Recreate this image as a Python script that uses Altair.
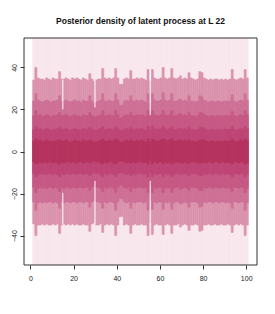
import altair as alt
import pandas as pd

# positions 1..100 (each bar spans [i, i+1])
positions = list(range(1, 101))

hi1 = [34,40,35,34.5,34.5,34,35,34.5,34,35, 34.5,34.5,38,34.5,34.5,35,34.5,34,35,34.5,
       35,34.5,34,35,34.5,34,37,34.5,33.5,34, 34.5,34.5,39.5,35,34.5,35,34.5,35,39.5,35,
       32,32,34.5,35,34.5,38.5,34.5,34.5,35,34.5, 35,34.5,34,39,33.5,39,35,34.5,34.5,35,
       40,35,34.5,35,39.5,35,34.5,35,36,34.5, 35,34.5,37.5,35,34.5,34,34.5,38,37.5,35,
       34.5,34,34.5,34,34.5,34.5,34,34.5,34,34.5, 34,34.5,39,34.5,34,34.5,35,34.5,39,35]
lo1 = [-34.5,-40,-35,-35,-34.5,-35,-34.5,-35,-35,-34.5, -35,-34.5,-39,-35,-34.5,-35,-34.5,-35,-34.5,-35,
       -34.5,-35,-35,-34.5,-35,-35,-38,-34.5,-34,-35, -35,-34.5,-38.5,-35,-34.5,-35,-34.5,-35,-40,-35,
       -31,-31,-35,-34.5,-35,-39,-35,-34.5,-35,-35, -34.5,-35,-35,-40,-34,-39.5,-35,-34.5,-35,-35,
       -39.5,-35,-34.5,-35,-39,-35,-35,-34.5,-36,-35, -34.5,-35,-37.5,-35,-35,-34.5,-35,-38,-37.5,-35,
       -35,-34.5,-35,-35,-34.5,-35,-35,-34.5,-35,-35, -34.5,-35,-38.5,-35,-34.5,-35,-34.5,-35,-40,-35]
hi2 = [24,27.5,24.5,24,23.5,24,24.5,24,23.5,24, 24,24.5,26.5,24,24,24.5,24,23.5,24,24.5,
       24,24,23.5,24.5,24,24,26.5,24,23,23.5, 24,24.5,27.5,24,24,24.5,24,24,27.5,24.5,
       22,22,24,24.5,24,26.5,24,24,24.5,24, 24.5,24,23.5,27.5,23,27.5,24.5,24,24,24.5,
       28,24.5,24,24.5,27.5,24,24,24.5,25,24, 24.5,24,26.5,24,24,23.5,24,26.5,26,24.5,
       24,23.5,24,24,23.5,24,24,23.5,24,24, 24,24,27,24,23.5,24,24.5,24,27.5,24.5]
lo2 = [-24,-28,-24.5,-24,-24.5,-24,-24.5,-24,-24,-24.5, -24,-24.5,-27,-24,-24.5,-24,-24,-24.5,-24,-24,
       -24.5,-24,-24,-24.5,-24,-24,-26.5,-24,-23.5,-24, -24,-24.5,-27,-24,-24.5,-24,-24,-24.5,-28,-24,
       -22.5,-22.5,-24,-24.5,-24,-27,-24,-24.5,-24,-24, -24,-24.5,-24,-28,-23.5,-27.5,-24,-24.5,-24,-24,
       -27.5,-24,-24.5,-24,-27.5,-24.5,-24,-24,-25,-24.5, -24,-24.5,-26.5,-24,-24,-24,-24.5,-26.5,-26,-24,
       -24.5,-24,-24,-24.5,-24,-24,-24.5,-24,-24,-24.5, -24,-24.5,-27,-24,-24,-24.5,-24,-24,-28,-24.5]
hi3 = [17,19.5,17,17.5,16.5,17,17.5,17,16.5,17, 17,17.5,18.5,17,17,17.5,17,16.5,17,17.5,
       17,17,16.5,17.5,17,17,18.5,17,16.5,16.5, 17,17.5,19.5,17,17,17.5,17,17,19.5,17.5,
       16,16,17,17.5,17,18.5,17,17,17.5,17, 17.5,17,16.5,19.5,16.5,19.5,17.5,17,17,17.5,
       19.5,17.5,17,17.5,19.5,17,17,17.5,18,17, 17.5,17,18.5,17,17,16.5,17,18.5,18.5,17.5,
       17,16.5,17,17,16.5,17,17,16.5,17,17, 17,17,19,17,16.5,17,17.5,17,19.5,17.5]
lo3 = [-17,-19.5,-17.5,-17,-17.5,-17,-17.5,-17,-17,-17.5, -17,-17.5,-19,-17,-17.5,-17,-17,-17.5,-17,-17,
       -17.5,-17,-17,-17.5,-17,-17,-18.5,-17,-16.5,-17, -17,-17.5,-19,-17,-17.5,-17,-17,-17.5,-19.5,-17,
       -16,-16,-17,-17.5,-17,-19,-17,-17.5,-17,-17, -17,-17.5,-17,-19.5,-16.5,-19.5,-17,-17.5,-17,-17,
       -19.5,-17,-17.5,-17,-19.5,-17.5,-17,-17,-18,-17.5, -17,-17.5,-18.5,-17,-17,-17,-17.5,-18.5,-18.5,-17,
       -17.5,-17,-17,-17.5,-17,-17,-17.5,-17,-17,-17.5, -17,-17.5,-19,-17,-17,-17.5,-17,-17,-19.5,-17.5]
hi4 = [10.5,12,10.5,11,10,10.5,11,10.5,10,10.5, 10.5,11,11.5,10.5,10.5,11,10.5,10,10.5,11,
       10.5,10.5,10,11,10.5,10.5,11.5,10.5,10,10, 10.5,11,12,10.5,10.5,11,10.5,10.5,12,11,
       10,10,10.5,11,10.5,11.5,10.5,10.5,11,10.5, 11,10.5,10,12,10,12,11,10.5,10.5,11,
       12,11,10.5,11,12,10.5,10.5,11,11,10.5, 11,10.5,11.5,10.5,10.5,10,10.5,11.5,11.5,11,
       10.5,10,10.5,10.5,10,10.5,10.5,10,10.5,10.5, 10.5,10.5,12,10.5,10,10.5,11,10.5,12,11]
lo4 = [-10.5,-12,-11,-10.5,-11,-10.5,-11,-10.5,-10.5,-11, -10.5,-11,-12,-10.5,-11,-10.5,-10.5,-11,-10.5,-10.5,
       -11,-10.5,-10.5,-11,-10.5,-10.5,-11.5,-10.5,-10,-10.5, -10.5,-11,-12,-10.5,-11,-10.5,-10.5,-11,-12,-10.5,
       -10,-10,-10.5,-11,-10.5,-11.5,-10.5,-11,-10.5,-10.5, -10.5,-11,-10.5,-12,-10,-12,-10.5,-11,-10.5,-10.5,
       -12,-10.5,-11,-10.5,-12,-11,-10.5,-10.5,-11,-11, -10.5,-11,-11.5,-10.5,-10.5,-10.5,-11,-11.5,-11.5,-10.5,
       -11,-10.5,-10.5,-11,-10.5,-10.5,-11,-10.5,-10.5,-11, -10.5,-11,-12,-10.5,-10.5,-11,-10.5,-10.5,-12,-11]
hi5 = [5,6,5,5.5,4.5,5,5.5,5,4.5,5, 5,5.5,5.5,5,5,5.5,5,4.5,5,5.5,
       5,5,4.5,5.5,5,5,5.5,5,4.5,4.5, 5,5.5,6,5,5,5.5,5,5,6,5.5,
       4.5,4.5,5,5.5,5,5.5,5,5,5.5,5, 5.5,5,4.5,6,4.5,6,5.5,5,5,5.5,
       6,5.5,5,5.5,6,5,5,5.5,5.5,5, 5.5,5,5.5,5,5,4.5,5,5.5,5.5,5.5,
       5,4.5,5,5,4.5,5,5,4.5,5,5, 5,5,6,5,4.5,5,5.5,5,6,5.5]
lo5 = [-5,-6,-5.5,-5,-5.5,-5,-5.5,-5,-5,-5.5, -5,-5.5,-6,-5,-5.5,-5,-5,-5.5,-5,-5,
       -5.5,-5,-5,-5.5,-5,-5,-5.5,-5,-4.5,-5, -5,-5.5,-6,-5,-5.5,-5,-5,-5.5,-6,-5,
       -4.5,-4.5,-5,-5.5,-5,-5.5,-5,-5.5,-5,-5, -5,-5.5,-5,-6,-4.5,-6,-5,-5.5,-5,-5,
       -6,-5,-5.5,-5,-6,-5.5,-5,-5,-5.5,-5.5, -5,-5.5,-5.5,-5,-5,-5,-5.5,-5.5,-5.5,-5,
       -5.5,-5,-5,-5.5,-5,-5,-5.5,-5,-5,-5.5, -5,-5.5,-6,-5,-5,-5.5,-5,-5,-6,-5.5]
outer_hi = 60
outer_lo = -60

band_names = ["b0", "b1", "b2", "b3", "b4", "b5"]
band_colors = ["#F8E7ED", "#DA92AD", "#CE7096", "#C65985", "#BE4676", "#B5345F"]

# white gaps in the bands
gap_x = [15, 29.9, 55.5]
gap_up_lo = [20, 21, 17.5]
gap_up_hi = [34.3, 34.0, 39.0]
gap_dn_lo = [-34.8, -34.8, -35.0]
gap_dn_hi = [-19.7, -14.0, -14.0]

lows = [None, lo1, lo2, lo3, lo4, lo5]
highs = [None, hi1, hi2, hi3, hi4, hi5]
rows = []
for k, name in enumerate(band_names):
    for j, p in enumerate(positions):
        if k == 0:
            lo, hi = outer_lo, outer_hi
        else:
            lo, hi = lows[k][j], highs[k][j]
        rows.append({"x": p, "x2": p + 1, "lo": lo, "hi": hi, "band": name, "ord": k})
df = pd.DataFrame(rows)

gaps = pd.DataFrame(
    [{"x": gx, "y": a, "y2": b} for gx, a, b in zip(gap_x, gap_up_lo, gap_up_hi)]
    + [{"x": gx, "y": a, "y2": b} for gx, a, b in zip(gap_x, gap_dn_lo, gap_dn_hi)]
)

xscale = alt.Scale(domain=[-3, 105], nice=False, zero=False)
yscale = alt.Scale(domain=[-54, 54], nice=False, zero=False)

xaxis = alt.Axis(values=[0, 20, 40, 60, 80, 100], title=None, grid=False, domain=False,
                 tickSize=4, tickColor="#333", labelColor="#222", labelFontSize=7,
                 labelFont="Liberation Sans", labelPadding=5)
yaxis = alt.Axis(values=[-40, -20, 0, 20, 40], title=None, grid=False, domain=False,
                 tickSize=4, tickColor="#333", labelColor="#222", labelFontSize=7,
                 labelFont="Liberation Sans", labelAngle=270, labelPadding=3,
                 labelAlign="center", labelBaseline="bottom")

color_scale = alt.Scale(domain=band_names, range=band_colors)

bands = alt.Chart(df).mark_rect(clip=True, strokeWidth=0.5).encode(
    x=alt.X("x:Q", scale=xscale, axis=xaxis),
    x2="x2:Q",
    y=alt.Y("lo:Q", scale=yscale, axis=yaxis),
    y2="hi:Q",
    color=alt.Color("band:N", scale=color_scale, legend=None),
    stroke=alt.Stroke("band:N", scale=color_scale, legend=None),
    order=alt.Order("ord:Q"),
)

gap_rules = alt.Chart(gaps).mark_rule(color="white", strokeWidth=1).encode(
    x=alt.X("x:Q", scale=xscale),
    y=alt.Y("y:Q", scale=yscale),
    y2="y2:Q",
)

frame = alt.Chart(pd.DataFrame({"f": [0]})).mark_rect(
    filled=False, stroke="#333", strokeWidth=1
).encode(
    x=alt.value(0), x2=alt.value(233), y=alt.value(0), y2=alt.value(227)
)

chart = alt.layer(bands, gap_rules, frame).properties(
    width=233, height=227,
    title=alt.TitleParams("Posterior density of latent process at L 22",
                          font="Liberation Sans", fontSize=8.5, fontWeight="bold",
                          color="#111", anchor="middle", offset=12),
    autosize=alt.AutoSizeParams(type="none"),
    padding={"left": 16, "top": 30, "right": 10, "bottom": 40},
).configure_view(stroke=None)

chart.save("out.html", embed_options={"renderer": "svg", "actions": False})
